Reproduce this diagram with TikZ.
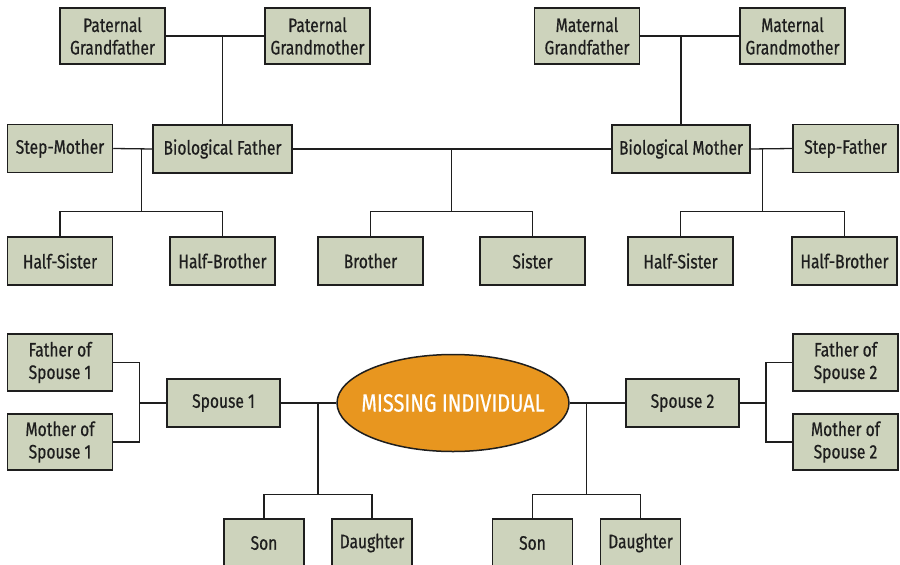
\documentclass[tikz,border=0pt]{standalone}
\usepackage{fontspec}
\setmainfont{Fira Sans}[FakeStretch=0.8, FakeBold=0.6]
\usetikzlibrary{calc}
\usetikzlibrary{positioning,shapes.geometric}
\definecolor{boxfill}{HTML}{CDD3BC}
\definecolor{boxline}{HTML}{1E1E1E}
\definecolor{missfill}{HTML}{E8961F}

\begin{document}
\begin{tikzpicture}[x=1pt, y=-1pt, line width=1.3pt, every node/.style={font=\fontsize{19.5}{22.5}\selectfont, text=boxline}]
  % compact, consistent block style
  \tikzset{person/.style={draw=boxline, fill=boxfill, line width=1.5pt, minimum width=105pt, minimum height=48pt, align=center, inner sep=1pt},
    tall/.style={minimum height=56pt},
    wire/.style={draw=boxline, line width=1.3pt}}
  \useasboundingbox (0,0) rectangle (900,565);

  % grandparents
  \node[person, tall] (pgf) at (112.5,36) {Paternal\\Grandfather};
  \node[person, tall] (pgm) at (317.5,36) {Paternal\\Grandmother};
  \node[person, tall] (mgf) at (587,36) {Maternal\\Grandfather};
  \node[person, tall] (mgm) at (792.5,36) {Maternal\\Grandmother};

  % parents and step-parents
  \node[person] (sm) at (60,148.5) {Step-Mother};
  \node[person, minimum width=139pt] (bf) at (222.5,149) {Biological Father};
  \node[person, minimum width=138pt] (bm) at (681,149) {Biological Mother};
  \node[person] (sf) at (845.5,148.5) {Step-Father};

  % siblings
  \node[person] (hsl) at (60,261) {Half-Sister};
  \node[person] (hbl) at (222.5,261) {Half-Brother};
  \node[person] (br) at (370.5,261) {Brother};
  \node[person] (si) at (532.5,261) {Sister};
  \node[person] (hsr) at (680.5,261) {Half-Sister};
  \node[person] (hbr) at (844.5,261) {Half-Brother};

  % spouses and in-laws
  \node[person, minimum height=57pt] (fs1) at (60,362.5) {Father of\\Spouse 1};
  \node[person, tall] (ms1) at (60,442) {Mother of\\Spouse 1};
  \node[person, minimum width=113pt] (sp1) at (223.5,403) {Spouse 1};
  \node[ellipse, draw=boxline, fill=missfill, line width=1.5pt, minimum width=232pt, minimum height=97pt, inner sep=0pt, text=white, font=\fontsize{25}{28}\selectfont] (mi) at (453,403) {\makebox[0pt]{MISSING INDIVIDUAL}};
  \node[person, minimum width=113pt] (sp2) at (682.5,403) {Spouse 2};
  \node[person, minimum height=57pt] (fs2) at (845.5,362.5) {Father of\\Spouse 2};
  \node[person, tall] (ms2) at (845.5,442) {Mother of\\Spouse 2};

  % children
  \node[person, minimum width=80pt] (son1) at (264,543) {Son};
  \node[person, minimum width=80pt] (dau1) at (372,543) {Daughter};
  \node[person, minimum width=80pt] (son2) at (532.5,543) {Son};
  \node[person, minimum width=80pt] (dau2) at (640.5,543) {Daughter};

  % grandparent links
  \draw[wire] (pgf.east) -- (pgm.west);
  \draw[wire] (bf.north) -- (bf.north |- pgf.east);
  \draw[wire] (mgf.east) -- (mgm.west);
  \draw[wire] (bm.north) -- (bm.north |- mgf.east);

  % parent lines
  \draw[wire] (sm.east) -- (bf.west);
  \draw[wire] (bf.east) -- (bm.west);
  \draw[wire] (bm.east) -- (sf.west);

  % sibling branches
  \coordinate (kl) at ($(hsl.north)!0.5!(hbl.north)+(0,-25)$);
  \draw[wire] (hsl.north) |- (kl) -| (hbl.north);
  \draw[wire] (kl) -- (kl |- sm.east);
  \coordinate (km) at ($(br.north)!0.5!(si.north)+(0,-25)$);
  \draw[wire] (br.north) |- (km) -| (si.north);
  \draw[wire] (km) -- (km |- bf.east);
  \coordinate (kr) at ($(hsr.north)!0.5!(hbr.north)+(0,-25)$);
  \draw[wire] (hsr.north) |- (kr) -| (hbr.north);
  \draw[wire] (kr) -- (kr |- sf.west);

  % in-law brackets
  \coordinate (b1) at ($(fs1.east)!0.5!(fs1.east -| sp1.west)$);
  \draw[wire] (fs1.east) -- (b1) |- (ms1.east);
  \draw[wire] (sp1.west) -- (b1 |- sp1.west);
  \coordinate (b2) at ($(fs2.west)!0.5!(fs2.west -| sp2.east)$);
  \draw[wire] (fs2.west) -- (b2) |- (ms2.west);
  \draw[wire] (sp2.east) -- (b2 |- sp2.east);

  % marriages and children
  \draw[wire] (sp1.east) -- (mi.west);
  \draw[wire] (mi.east) -- (sp2.west);
  \coordinate (c1) at ($(son1.north)!0.5!(dau1.north)+(0,-24)$);
  \draw[wire] (son1.north) |- (c1) -| (dau1.north);
  \draw[wire] (c1) -- (c1 |- sp1.east);
  \coordinate (c2) at ($(son2.north)!0.5!(dau2.north)+(0,-24)$);
  \draw[wire] (son2.north) |- (c2) -| (dau2.north);
  \draw[wire] (c2) -- (c2 |- sp2.west);
\end{tikzpicture}
\end{document}
